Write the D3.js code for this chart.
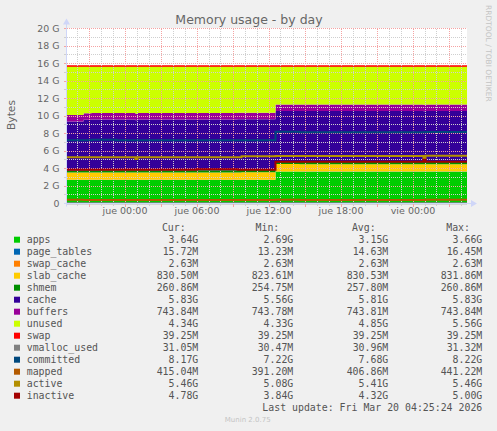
<!DOCTYPE html>
<html><head><meta charset="utf-8">
<script src="https://cdn.jsdelivr.net/npm/d3@7/dist/d3.min.js"></script>
<style>
html,body{margin:0;padding:0;background:#F0F0F0;}
svg{display:block;}
</style>
</head><body>
<svg id="chart" width="497" height="431"></svg>
<script>
// ---------------- DATA (values in G) ----------------
const timeDomain = ["2026-03-18T19:12:30", "2026-03-20T04:32:30"];
const times = [
  "2026-03-18T19:12:30","2026-03-18T20:35:00","2026-03-18T21:15:00","2026-03-18T23:20:00",
  "2026-03-19T00:55:00","2026-03-19T01:05:00","2026-03-19T06:00:00","2026-03-19T09:25:00",
  "2026-03-19T09:45:00","2026-03-19T12:35:00","2026-03-19T14:35:00","2026-03-19T18:10:00",
  "2026-03-20T00:55:00","2026-03-20T01:05:00","2026-03-20T04:32:30"
];
const apps        = [2.69,2.69,2.70,2.70,2.70,2.70,2.70,2.71,2.71,3.65,3.64,3.64,3.64,3.64,3.64];
const page_tables = [0.0140,0.0133,0.0133,0.0134,0.0134,0.0134,0.0135,0.0135,0.0136,0.0164,0.0158,0.0157,0.0157,0.0157,0.0157];
const swap_cache  = [0.00263,0.00263,0.00263,0.00263,0.00263,0.00263,0.00263,0.00263,0.00263,0.00263,0.00263,0.00263,0.00263,0.00263,0.00263];
const slab_cache  = [0.8236,0.829,0.830,0.830,0.830,0.830,0.831,0.831,0.831,0.8318,0.831,0.830,0.830,0.8305,0.8305];
const shmem       = [0.2548,0.2550,0.2555,0.2560,0.2560,0.2565,0.2570,0.2575,0.2575,0.2600,0.2600,0.2605,0.2605,0.2609,0.2609];
const cache       = [5.58,5.79,5.79,5.80,5.72,5.80,5.80,5.81,5.81,5.82,5.82,5.82,5.80,5.83,5.83];
const buffers     = [0.7438,0.7438,0.7438,0.7438,0.7438,0.7438,0.7438,0.7438,0.7438,0.7438,0.7438,0.7438,0.7438,0.7438,0.7438];
const unused      = [5.564,5.349,5.338,5.327,5.407,5.327,5.325,5.305,5.305,4.348,4.360,4.360,4.380,4.350,4.350];
const swap        = [0.03925,0.03925,0.03925,0.03925,0.03925,0.03925,0.03925,0.03925,0.03925,0.03925,0.03925,0.03925,0.03925,0.03925,0.03925];
const vmalloc_used= [0.0305,0.0306,0.0308,0.0309,0.0310,0.0310,0.0310,0.0311,0.0311,0.0313,0.0312,0.0311,0.0311,0.0310,0.0310];
const committed   = [7.22,7.23,7.30,7.22,7.22,7.22,7.22,7.22,7.22,8.20,8.15,8.15,8.15,8.17,8.17];
const mapped      = [0.441,0.400,0.400,0.405,0.405,0.405,0.405,0.405,0.405,0.415,0.391,0.410,0.410,0.415,0.415];
const active      = [5.28,5.28,5.28,5.28,5.08,5.28,5.28,5.28,5.39,5.42,5.42,5.43,5.20,5.46,5.46];
const inactive    = [3.86,3.86,3.86,3.86,3.86,3.86,3.92,3.86,3.86,4.76,4.76,4.77,5.00,4.78,4.78];

const stackKeys = ["apps","page_tables","swap_cache","slab_cache","shmem","cache","buffers","unused","swap"];
const lineKeys  = ["vmalloc_used","committed","mapped","active","inactive"];
const seriesData = {apps,page_tables,swap_cache,slab_cache,shmem,cache,buffers,unused,swap,
                    vmalloc_used,committed,mapped,active,inactive};

const yTicks = [0,2,4,6,8,10,12,14,16,18,20];
const yTickLabels = ["0","2 G","4 G","6 G","8 G","10 G","12 G","14 G","16 G","18 G","20 G"];
const xTickTimes = ["2026-03-19T00:00:00","2026-03-19T06:00:00","2026-03-19T12:00:00","2026-03-19T18:00:00","2026-03-20T00:00:00"];
const xTickLabels = ["jue 00:00","jue 06:00","jue 12:00","jue 18:00","vie 00:00"];

const legendNames = ["apps","page_tables","swap_cache","slab_cache","shmem","cache","buffers","unused","swap","vmalloc_used","committed","mapped","active","inactive"];
const curVals = ["3.64G","15.72M","2.63M","830.50M","260.86M","5.83G","743.84M","4.34G","39.25M","31.05M","8.17G","415.04M","5.46G","4.78G"];
const minVals = ["2.69G","13.23M","2.63M","823.61M","254.75M","5.56G","743.78M","4.33G","39.25M","30.47M","7.22G","391.20M","5.08G","3.84G"];
const avgVals = ["3.15G","14.63M","2.63M","830.53M","257.80M","5.81G","743.81M","4.85G","39.25M","30.96M","7.68G","406.86M","5.41G","4.32G"];
const maxVals = ["3.66G","16.45M","2.63M","831.86M","260.86M","5.83G","743.84M","5.56G","39.25M","31.32M","8.22G","441.22M","5.46G","5.00G"];
const colHeaders = ["Cur:","Min:","Avg:","Max:"];

// ---------------- STYLE ----------------
const palette = {
  apps:"#00CC00", page_tables:"#0066B3", swap_cache:"#FF8000", slab_cache:"#FFCC00",
  shmem:"#008F00", cache:"#330099", buffers:"#990099", unused:"#CCFF00", swap:"#FF0000",
  vmalloc_used:"#808080", committed:"#00487D", mapped:"#B35A00", active:"#B38F00", inactive:"#A30000"
};
const FONT = "'DejaVu Sans', 'Liberation Sans', sans-serif";
const MONO = "'DejaVu Sans Mono', 'Liberation Mono', monospace";
const TXT = "#666666";
const AXIS = "#CFD6F8";
const GRID = "#cfcfcf";
const MGRID = "#f5a3a3";

const L = 67, R = 467, T = 28.5, B = 203.5;

const parse = d3.timeParse("%Y-%m-%dT%H:%M:%S");
const rows = times.map((t,i) => {
  const r = {t: parse(t)};
  for (const k of Object.keys(seriesData)) r[k] = seriesData[k][i];
  return r;
});

const svg = d3.select("#chart");
svg.append("rect").attr("width",497).attr("height",431).attr("fill","#F0F0F0");

const x = d3.scaleTime().domain(timeDomain.map(parse)).range([L, R]);
const y = d3.scaleLinear().domain([0, 20]).range([B, T]);

// canvas
svg.append("rect").attr("x",L).attr("y",T-0.5).attr("width",R-L).attr("height",B-T+0.5).attr("fill","#FFFFFF");

// stacked areas
const stack = d3.stack().keys(stackKeys);
const stacked = stack(rows);
const area = d3.area().curve(d3.curveStepAfter)
  .x(d => x(d.data.t)).y0(d => y(d[0])).y1(d => y(d[1]));
const gArea = svg.append("g");
gArea.selectAll("path").data(stacked).join("path")
  .attr("d", area).attr("fill", d => palette[d.key]).attr("stroke","none");
// top edge of swap (thin band made visible like rrdtool)
const swapLayer = stacked.find(s => s.key === "swap");
gArea.append("path").datum(swapLayer)
  .attr("d", d3.line().curve(d3.curveStepAfter).x(d => x(d.data.t)).y(d => y(d[1])))
  .attr("fill","none").attr("stroke", palette.swap).attr("stroke-width",1.6);

// grid
const gGrid = svg.append("g").attr("shape-rendering","crispEdges");
const [t0, t1] = x.domain();
const hours = d3.timeHour.range(t0, t1);
const majorHours = hours.filter(h => h.getHours() % 3 === 0);
const minorHours = hours.filter(h => h.getHours() % 3 !== 0);
const px = v => Math.round(v) + 0.5;
gGrid.selectAll(".vmin").data(minorHours).join("line")
  .attr("x1", d => px(x(d))).attr("x2", d => px(x(d))).attr("y1", T).attr("y2", B)
  .attr("stroke", GRID).attr("stroke-dasharray","1,1");
const yMinor = d3.range(1, 20, 2);
const yMajor = d3.range(2, 21, 2);
gGrid.selectAll(".hmin").data(yMinor).join("line")
  .attr("x1", L).attr("x2", R).attr("y1", d => px(y(d)-0.5)).attr("y2", d => px(y(d)-0.5))
  .attr("stroke", GRID).attr("stroke-dasharray","1,1");
gGrid.selectAll(".vmaj").data(majorHours).join("line")
  .attr("x1", d => px(x(d))).attr("x2", d => px(x(d))).attr("y1", T).attr("y2", B)
  .attr("stroke", MGRID).attr("stroke-dasharray","1,1");
gGrid.selectAll(".hmaj").data(yMajor).join("line")
  .attr("x1", L).attr("x2", R).attr("y1", d => px(y(d)-0.5)).attr("y2", d => px(y(d)-0.5))
  .attr("stroke", MGRID).attr("stroke-dasharray","1,1");

// lines
const gLines = svg.append("g");
for (const k of lineKeys) {
  gLines.append("path").datum(rows)
    .attr("d", d3.line().curve(d3.curveStepAfter).x(d => x(d.t)).y(d => y(d[k])))
    .attr("fill","none").attr("stroke", palette[k]).attr("stroke-width", 2);
}

// ticks on axes
const gTicks = svg.append("g").attr("shape-rendering","crispEdges");
gTicks.selectAll(".xt").data(hours).join("line")
  .attr("x1", d => px(x(d))).attr("x2", d => px(x(d)))
  .attr("y1", B).attr("y2", d => d.getHours() % 3 === 0 ? B + 3 : B + 2)
  .attr("stroke", d => d.getHours() % 3 === 0 ? MGRID : GRID);
gTicks.selectAll(".yt").data(d3.range(1, 21)).join("line")
  .attr("x1", L - 3).attr("x2", L).attr("y1", d => px(y(d)-0.5)).attr("y2", d => px(y(d)-0.5))
  .attr("stroke", d => d % 2 === 0 ? MGRID : GRID);

// axis lines with arrows
const gAx = svg.append("g");
gAx.append("line").attr("x1", L-0.5).attr("x2", L-0.5).attr("y1", B+3).attr("y2", T-5)
  .attr("stroke", AXIS).attr("stroke-width",1);
gAx.append("path").attr("d", `M${L-4},${T-4} L${L+3},${T-4} L${L-0.5},${T-10} Z`).attr("fill", AXIS);
gAx.append("line").attr("x1", L-3).attr("x2", R+5).attr("y1", B).attr("y2", B)
  .attr("stroke", AXIS).attr("stroke-width",1);
gAx.append("path").attr("d", `M${R+4},${B-3.5} L${R+4},${B+3.5} L${R+10},${B} Z`).attr("fill", AXIS);

// axis labels (d3 axes)
const yAxis = d3.axisLeft(y).tickValues(yTicks).tickFormat((d,i) => yTickLabels[i]).tickSize(0).tickPadding(7.5);
const gy = svg.append("g").attr("transform", `translate(${L},-0.3)`).call(yAxis);
gy.select(".domain").remove();
gy.selectAll("text").attr("font-family", FONT).attr("font-size", 9.4).attr("fill", TXT);

const xAxis = d3.axisBottom(x).tickValues(xTickTimes.map(parse)).tickFormat((d,i) => xTickLabels[i]).tickSize(0).tickPadding(4);
const gx = svg.append("g").attr("transform", `translate(0,${B})`).call(xAxis);
gx.select(".domain").remove();
gx.selectAll("text").attr("font-family", FONT).attr("font-size", 9.5).attr("fill", TXT);

// title
svg.append("text").attr("x", 249).attr("y", 24.3).attr("text-anchor","middle")
  .attr("font-family", FONT).attr("font-size", 12.5).attr("fill", TXT).text("Memory usage - by day");
// y label
svg.append("text").attr("transform","translate(15,115) rotate(-90)").attr("text-anchor","middle")
  .attr("font-family", FONT).attr("font-size", 10.7).attr("fill", TXT).text("Bytes");
// watermark
svg.append("text").attr("transform","translate(486,5) rotate(90)").attr("text-anchor","start")
  .attr("font-family", FONT).attr("font-size", 7.5).attr("fill", "#c4c4c4").text("RRDTOOL / TOBI OETIKER");

// legend
const gLeg = svg.append("g").attr("font-family", MONO).attr("font-size", 9.9).attr("fill", "#555555");
const headEnds = [185.7, 279.3, 375.7, 470];
const valEnds = [198.3, 293.3, 388.3, 482.3];
gLeg.selectAll(".hd").data(colHeaders).join("text")
  .attr("x", (d,i) => headEnds[i]).attr("y", 227.7).attr("dy","0.35em").attr("text-anchor","end").text(d => d);
const rowY = i => 239.7 + 12 * i;
legendNames.forEach((name, i) => {
  gLeg.append("rect").attr("x", 14).attr("y", rowY(i) - 3).attr("width", 6).attr("height", 6).attr("fill", palette[name]);
  gLeg.append("text").attr("x", 26.7).attr("y", rowY(i)).attr("dy","0.35em").text(name);
  [curVals, minVals, avgVals, maxVals].forEach((arr, j) => {
    gLeg.append("text").attr("x", valEnds[j]).attr("y", rowY(i)).attr("dy","0.35em")
      .attr("text-anchor","end").text(arr[i]);
  });
});
gLeg.append("text").attr("x", 482.3).attr("y", 407.7).attr("dy","0.35em").attr("text-anchor","end")
  .text("Last update: Fri Mar 20 04:25:24 2026");

svg.append("text").attr("x", 247.7).attr("y", 419.7).attr("dy","0.35em").attr("text-anchor","middle")
  .attr("font-family", FONT).attr("font-size", 7).attr("fill", "#c4c4c4").text("Munin 2.0.75");
</script>
</body></html>
